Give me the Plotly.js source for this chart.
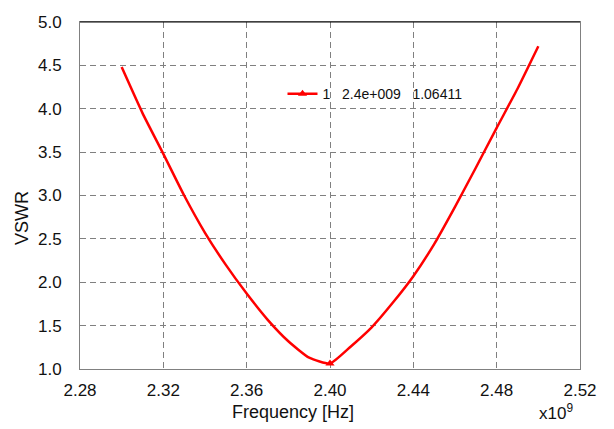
<!DOCTYPE html>
<html>
<head>
<meta charset="utf-8">
<script src="https://cdn.plot.ly/plotly-3.0.1.min.js"></script>
<style>html,body{margin:0;padding:0;background:#fff;}#chart{width:614px;height:429px;}</style>
</head>
<body>
<div id="chart"></div>
<script>
const freqGHz = [2.30, 2.31, 2.32, 2.33, 2.34, 2.35, 2.36, 2.37, 2.38, 2.39, 2.40, 2.41, 2.42, 2.43, 2.44, 2.45, 2.46, 2.47, 2.48, 2.49, 2.50];
const vswr    = [4.48, 3.95, 3.48, 3.00, 2.57, 2.20, 1.87, 1.57, 1.32, 1.13, 1.064, 1.26, 1.48, 1.76, 2.07, 2.44, 2.87, 3.32, 3.78, 4.23, 4.72];
const markerFreq = [2.40];
const markerVswr = [1.06411];
const markerLabel = "1\u00a0\u00a0\u00a02.4e+009\u00a0\u00a0\u00a01.06411";
const xTicks = [2.28, 2.32, 2.36, 2.40, 2.44, 2.48, 2.52];
const yTicks = [1.0, 1.5, 2.0, 2.5, 3.0, 3.5, 4.0, 4.5, 5.0];

const font = "Liberation Sans, Arial, sans-serif";
const traces = [
  {x: freqGHz, y: vswr, mode: 'lines', line: {color: '#ff0000', width: 2.5, shape: 'spline', smoothing: 0.5}, showlegend: false, hoverinfo: 'skip'},
  {x: markerFreq, y: markerVswr, mode: 'lines+markers', name: markerLabel,
   line: {color: '#ff0000', width: 2.5},
   marker: {symbol: 'triangle-up', size: 8, color: '#ff0000'}}
];
const axisCommon = {
  showline: true, mirror: true, linecolor: '#808080', linewidth: 1,
  showgrid: true, gridcolor: '#808080', gridwidth: 1, griddash: '6px,4px',
  zeroline: false, ticks: '', tickfont: {family: font, size: 17, color: '#111'}
};
const layout = {
  width: 614, height: 429,
  margin: {l: 80, r: 34, t: 22, b: 60},
  paper_bgcolor: '#fff', plot_bgcolor: '#fff',
  font: {family: font, color: '#111'},
  xaxis: Object.assign({}, axisCommon, {range: [2.28, 2.52], tickvals: xTicks, ticktext: xTicks.map(v => v.toFixed(2)), ticklabelstandoff: 6}),
  yaxis: Object.assign({}, axisCommon, {range: [1.0, 5.0], tickvals: yTicks, ticktext: yTicks.map(v => v.toFixed(1)), ticklabelstandoff: 14}),
  showlegend: true,
  legend: {x: 0.405, y: 0.792, xanchor: 'left', yanchor: 'middle', bgcolor: 'rgba(0,0,0,0)',
           font: {family: font, size: 14, color: '#111'}},
  shapes: [{type: 'line', xref: 'paper', yref: 'paper', x0: 0, x1: 1, y0: 1, y1: 1, line: {color: '#000', width: 1}}],
  annotations: [
    {text: 'Frequency [Hz]', xref: 'paper', yref: 'paper', x: 0.426, y: -0.125, xanchor: 'center', yanchor: 'middle', showarrow: false, font: {family: font, size: 18, color: '#111'}},
    {text: 'VSWR', xref: 'paper', yref: 'paper', x: -0.116, y: 0.435, xanchor: 'center', yanchor: 'middle', textangle: -90, showarrow: false, font: {family: font, size: 18, color: '#111'}},
    {text: 'x10<sup>9</sup>', xref: 'paper', yref: 'paper', x: 0.99, y: -0.125, xanchor: 'right', yanchor: 'middle', showarrow: false, font: {family: font, size: 17, color: '#111'}}
  ]
};
Plotly.newPlot('chart', traces, layout, {displayModeBar: false, staticPlot: true});
</script>
</body>
</html>
